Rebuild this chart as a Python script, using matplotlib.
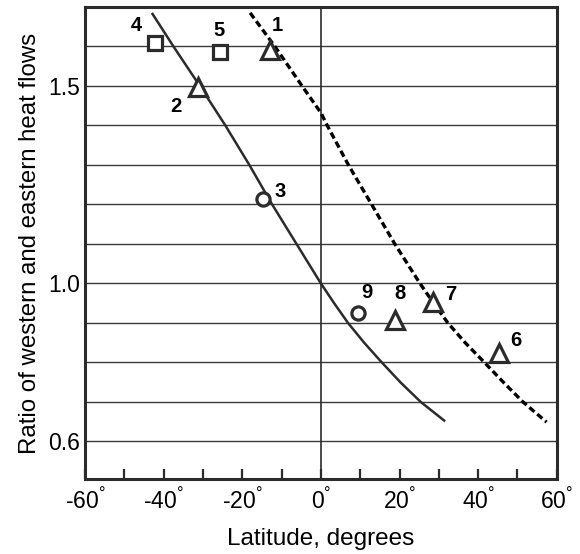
import numpy as np
import matplotlib.pyplot as plt

plt.rcParams['font.family'] = ['Liberation Sans', 'DejaVu Sans']
plt.rcParams['mathtext.fontset'] = 'custom'
plt.rcParams['mathtext.rm'] = 'Liberation Sans'

# ---------- data ----------
solid_lat = [-43.0, -37.5, -30.8, -24.3, -18.2, -12.4, -6.2, 0.0,
             3.3, 6.9, 11.0, 15.5, 20.3, 25.4, 31.6]
solid_ratio = [1.685, 1.60, 1.50, 1.40, 1.30, 1.20, 1.10, 1.00,
               0.951, 0.90, 0.85, 0.80, 0.749, 0.70, 0.651]

dash_lat = [-18.0, -11.7, -4.8, 0.0, 1.6, 7.0, 12.9, 18.8, 25.2,
            28.6, 32.3, 36.7, 41.6, 46.5, 51.4, 57.4]
dash_ratio = [1.685, 1.60, 1.50, 1.432, 1.40, 1.30, 1.20, 1.10, 1.00,
              0.951, 0.90, 0.85, 0.80, 0.749, 0.70, 0.649]

pt_id = ['1', '2', '3', '4', '5', '6', '7', '8', '9']
pt_lat = [-12.9, -31.2, -14.7, -42.2, -25.6, 45.3, 28.5, 18.9, 9.5]
pt_ratio = [1.59, 1.497, 1.213, 1.61, 1.585, 0.823, 0.952, 0.908, 0.924]
pt_kind = ['^', '^', 'o', 's', 's', '^', '^', '^', 'o']
# label offsets in points (dx, dy)
lab_off = [(5, 18), (-16, -14), (12.5, 5.5), (-13.5, 12.5), (-1, 16),
           (12.5, 9), (12.5, 6), (3.5, 19), (6, 15)]

grid_y = [0.6, 0.7, 0.8, 0.9, 1.0, 1.1, 1.2, 1.3, 1.4, 1.5, 1.6]
xticks = [-60, -40, -20, 0, 20, 40, 60]
yticks = [0.6, 1.0, 1.5]

ink = '#2b2b2b'

fig = plt.figure(figsize=(5.8, 5.54), dpi=100)
ax = fig.add_axes([0.1466, 0.1354, 0.8134, 0.852])
ax.set_xlim(-60, 60)
ax.set_ylim(0.505, 1.70)

for g in grid_y:
    ax.axhline(g, color='#3a3a3a', lw=1.0, zorder=1)
ax.axvline(0, color=ink, lw=1.2, zorder=1)

ax.plot(solid_lat, solid_ratio, color=ink, lw=1.8, zorder=2,
        solid_joinstyle='round', solid_capstyle='butt')
ax.plot(dash_lat, dash_ratio, color='black', lw=2.4, ls=(0, (2.0, 1.1)), zorder=2)

msize = {'^': 13, 'o': 9.5, 's': 9.5}
for i in range(len(pt_id)):
    ax.plot(pt_lat[i], pt_ratio[i], marker=pt_kind[i], ms=msize[pt_kind[i]],
            mfc='white', mec=ink, mew=2.3, ls='none', zorder=3)
    ax.annotate(pt_id[i], (pt_lat[i], pt_ratio[i]), xytext=lab_off[i],
                textcoords='offset points', ha='center', va='center',
                fontsize=14.5, fontweight='bold', color='black', zorder=4)

ax.set_xticks(xticks)
ax.set_xticklabels([f'{t}$^{{°}}$' for t in xticks])
ax.set_xticks(np.arange(-50, 60, 10), minor=True)
ax.set_yticks(yticks)
ax.set_yticklabels(['0.6', '1.0', '1.5'])
ax.tick_params(axis='x', which='both', direction='in', length=7, width=1.6,
               color=ink, labelsize=16.5, pad=7)
ax.tick_params(axis='y', length=0, labelsize=16.5, pad=3.5)

for s in ax.spines.values():
    s.set_linewidth(2.2)
    s.set_color(ink)

ax.set_xlabel('Latitude, degrees', fontsize=17.5, labelpad=10)
ax.set_ylabel('Ratio of western and eastern heat flows', fontsize=17.3, labelpad=5)

fig.savefig('out.png', dpi=100)
